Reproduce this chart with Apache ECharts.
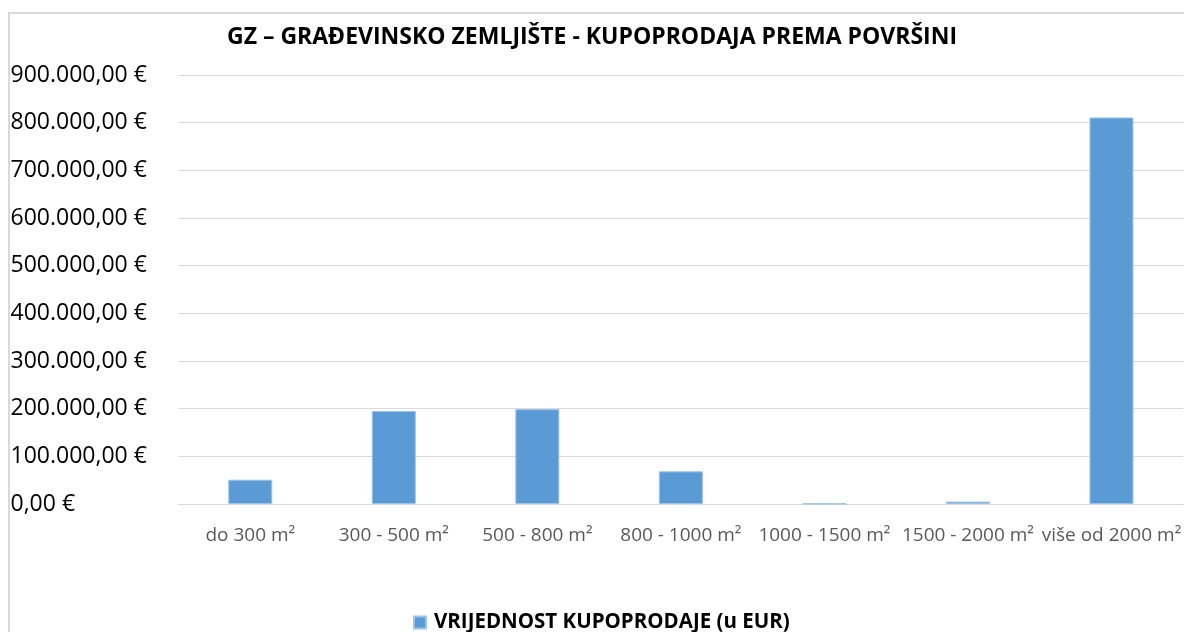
<!DOCTYPE html>
<html>
<head>
<meta charset="utf-8">
<script src="https://cdn.jsdelivr.net/npm/echarts@6/dist/echarts.min.js"></script>
<style>
  html, body { margin: 0; padding: 0; background: #fff; overflow: hidden; }
  #chart { width: 1184px; height: 632px; }
</style>
</head>
<body>
<div id="chart"></div>
<script>
var titleText = 'GZ – GRAĐEVINSKO ZEMLJIŠTE - KUPOPRODAJA PREMA POVRŠINI';
var seriesName = 'VRIJEDNOST KUPOPRODAJE (u EUR)';
var categories = ['do 300 m²', '300 - 500 m²', '500 - 800 m²', '800 - 1000 m²', '1000 - 1500 m²', '1500 - 2000 m²', 'više od 2000 m²'];
var values = [51000, 195000, 199000, 68500, 1000, 5000, 811000];

var fontFamily = '"Open Sans", "Noto Sans", sans-serif';

// 900000 -> "900.000,00 €"
function euro(v) {
    var s = String(Math.round(v)).replace(/\B(?=(\d{3})+(?!\d))/g, '.');
    return s + ',00 €';
}

var chart = echarts.init(document.getElementById('chart'));
chart.setOption({
    animation: false,
    textStyle: { fontFamily: fontFamily },
    graphic: [{
        type: 'polyline',
        shape: { points: [[9, 640], [9, 13], [1200, 13]] },
        style: { fill: 'none', stroke: '#d9d9d9', lineWidth: 2 },
        silent: true
    }],
    title: {
        text: titleText,
        left: 'center',
        top: 21,
        textStyle: { fontSize: 23, fontWeight: 'bold', color: '#000', fontFamily: fontFamily }
    },
    legend: {
        data: [seriesName],
        top: 607,
        left: 408,
        itemWidth: 12,
        itemHeight: 12,
        icon: 'rect',
        textStyle: { fontSize: 20.5, fontWeight: 'bold', color: '#000', padding: [0, 0, 0, 3] }
    },
    grid: {
        left: 178.5,
        width: 1008,
        top: 75,
        bottom: 128,
        containLabel: false
    },
    xAxis: {
        type: 'category',
        data: categories,
        axisTick: { show: false },
        axisLine: { lineStyle: { color: '#d9d9d9', width: 1 } },
        axisLabel: { color: '#595959', fontSize: 19, margin: 22, interval: 0 }
    },
    yAxis: {
        type: 'value',
        min: 0,
        max: 900000,
        interval: 100000,
        axisLine: { show: false },
        axisTick: { show: false },
        splitLine: { lineStyle: { color: '#d9d9d9', width: 1 } },
        axisLabel: {
            formatter: euro,
            color: '#000',
            fontSize: 23,
            align: 'left',
            margin: 168
        }
    },
    series: [{
        name: seriesName,
        type: 'bar',
        data: values,
        barWidth: 44,
        itemStyle: { color: '#5b9bd5', borderColor: '#9dc3e6', borderWidth: 1 }
    }]
});
</script>
</body>
</html>
